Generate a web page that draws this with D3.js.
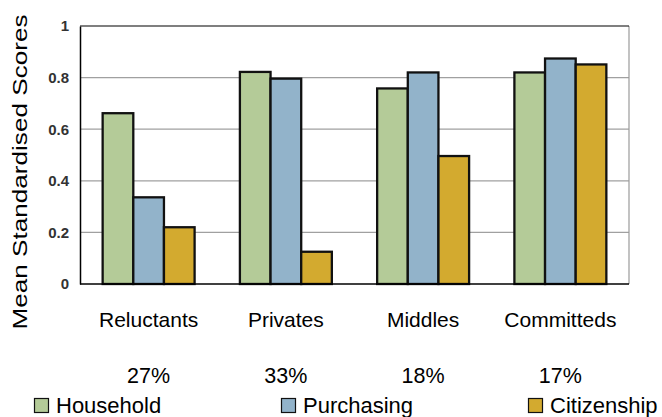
<!DOCTYPE html>
<html>
<head>
<meta charset="utf-8">
<script src="https://cdn.jsdelivr.net/npm/d3@7"></script>
<style>
  body { margin: 0; background: #fff; }
  text { font-family: Arial, "Liberation Sans", sans-serif; }
</style>
</head>
<body>
<div id="chart"></div>
<script>
const categories = ["Reluctants", "Privates", "Middles", "Committeds"];
const shares = ["27%", "33%", "18%", "17%"];
const seriesNames = ["Household", "Purchasing", "Citizenship"];
const household = [0.662, 0.822, 0.758, 0.820];
const purchasing = [0.336, 0.796, 0.820, 0.874];
const citizenship = [0.220, 0.125, 0.496, 0.851];
const yTicks = [0, 0.2, 0.4, 0.6, 0.8, 1];
const colors = ["#b4cb98", "#92b3ca", "#d3aa2f"];

const seriesValues = [household, purchasing, citizenship];

const width = 662, height = 417;
const margin = {top: 26, right: 33, bottom: 133, left: 80};
const innerW = width - margin.left - margin.right;
const innerH = height - margin.top - margin.bottom;

const svg = d3.select("#chart").append("svg")
    .attr("width", width)
    .attr("height", height);

const g = svg.append("g")
    .attr("transform", "translate(" + margin.left + "," + margin.top + ")");

const x0 = d3.scaleBand().domain(categories).range([0, innerW]).paddingInner(0.33).paddingOuter(0.165);
const x1 = d3.scaleBand().domain(seriesNames).range([0, x0.bandwidth()]);
const y = d3.scaleLinear().domain([0, 1]).range([innerH, 0]);

// gridlines
g.selectAll("line.grid")
  .data(yTicks.filter(t => t > 0 && t < 1))
  .enter().append("line")
    .attr("class", "grid")
    .attr("x1", 0).attr("x2", innerW)
    .attr("y1", d => y(d)).attr("y2", d => y(d))
    .attr("stroke", "#a0a0a0")
    .attr("stroke-width", 1.2);

// frame: right side gray, others black
g.append("line")
    .attr("x1", innerW).attr("x2", innerW).attr("y1", 0).attr("y2", innerH)
    .attr("stroke", "#9a9a9a").attr("stroke-width", 1.2);
g.append("line")
    .attr("x1", 0).attr("x2", innerW).attr("y1", 0).attr("y2", 0)
    .attr("stroke", "#000").attr("stroke-width", 1.2);

// bars
const rows = categories.map((c, i) => ({
  cat: c,
  vals: seriesNames.map((s, j) => ({key: s, value: seriesValues[j][i], color: colors[j]}))
}));

const groups = g.selectAll("g.cat")
  .data(rows)
  .enter().append("g")
    .attr("class", "cat")
    .attr("transform", d => "translate(" + x0(d.cat) + ",0)");

groups.selectAll("rect")
  .data(d => d.vals)
  .enter().append("rect")
    .attr("x", d => x1(d.key))
    .attr("y", d => y(d.value))
    .attr("width", x1.bandwidth())
    .attr("height", d => innerH - y(d.value))
    .attr("fill", d => d.color)
    .attr("stroke", "#111")
    .attr("stroke-width", 2.3);

// y axis
const yAxis = g.append("g")
    .call(d3.axisLeft(y).tickValues(yTicks).tickSize(0).tickPadding(11)
      .tickFormat(d => d === 0 ? "0" : d === 1 ? "1" : d3.format(".1f")(d)));
yAxis.select(".domain").attr("stroke", "#000").attr("stroke-width", 1.5);
yAxis.selectAll("text")
    .attr("font-size", 15)
    .attr("font-weight", "bold")
    .attr("fill", "#333")
    .style("font-family", "Arial, 'Liberation Sans', sans-serif");

// baseline
g.append("line")
    .attr("x1", 0).attr("x2", innerW).attr("y1", innerH).attr("y2", innerH)
    .attr("stroke", "#000").attr("stroke-width", 1.5);

// y title
svg.append("text")
    .attr("transform", "translate(27," + 172 + ") rotate(-90)")
    .attr("text-anchor", "middle")
    .attr("font-size", 21)
    .attr("textLength", 315)
    .attr("lengthAdjust", "spacingAndGlyphs")
    .attr("fill", "#000")
    .text("Mean Standardised Scores");

// category labels
g.selectAll("text.cat")
  .data(categories)
  .enter().append("text")
    .attr("class", "cat")
    .attr("x", d => x0(d) + x0.bandwidth() / 2)
    .attr("y", innerH + 43)
    .attr("text-anchor", "middle")
    .attr("font-size", 21)
    .attr("fill", "#000")
    .text(d => d);

// share labels
g.selectAll("text.share")
  .data(categories)
  .enter().append("text")
    .attr("class", "share")
    .attr("x", d => x0(d) + x0.bandwidth() / 2)
    .attr("y", innerH + 99)
    .attr("text-anchor", "middle")
    .attr("font-size", 21.5)
    .attr("fill", "#000")
    .text((d, i) => shares[i]);

// legend
const lx = d3.scalePoint().domain(seriesNames).range([34, 528]);
const legend = svg.selectAll("g.legend")
  .data(seriesNames)
  .enter().append("g")
    .attr("class", "legend")
    .attr("transform", d => "translate(" + lx(d) + ",398)");

legend.append("rect")
    .attr("x", 0.5).attr("y", 0.5)
    .attr("width", 14).attr("height", 14)
    .attr("fill", (d, i) => colors[i])
    .attr("stroke", "#111")
    .attr("stroke-width", 1.2);

legend.append("text")
    .attr("x", 22)
    .attr("y", 15)
    .attr("font-size", 22)
    .attr("fill", "#000")
    .text(d => d);
</script>
</body>
</html>
